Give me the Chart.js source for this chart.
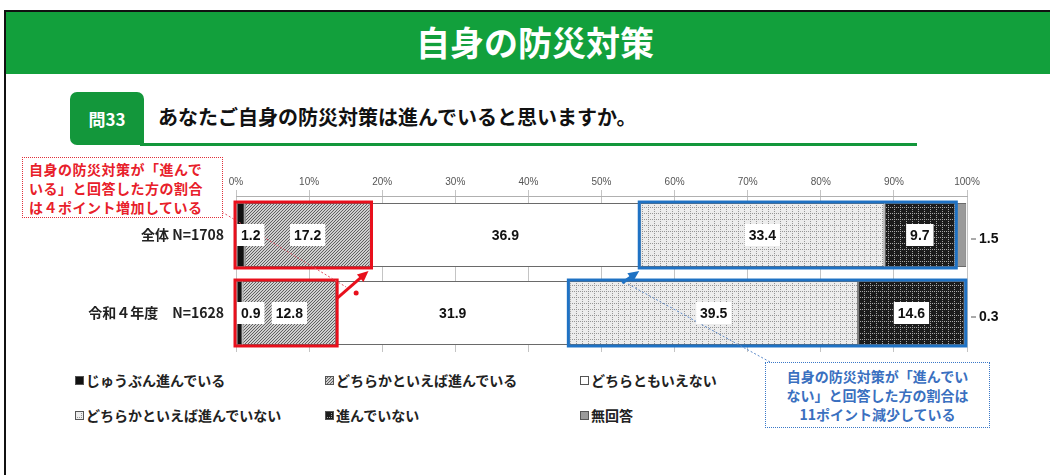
<!DOCTYPE html>
<html lang="ja">
<head>
<meta charset="UTF-8" />
<title>自身の防災対策</title>
<script src="https://cdn.jsdelivr.net/npm/chart.js@4"></script>
<style>
  body { margin: 0; width: 1050px; height: 475px; overflow: hidden; background: #fff;
         font-family: "Noto Sans CJK JP", "Noto Sans", sans-serif; position: relative; }
  .frame { position: absolute; left: 4px; top: 10px; width: 1100px; height: 500px;
           border-left: 2px solid #111; border-top: 2px solid #111; }
  .banner { position: absolute; left: 6px; top: 12px; width: 1044px; height: 62px; background: #12a03c;
            color: #fff; font-weight: bold; font-size: 34px; line-height: 60px; text-align: center; padding-left: 14px; box-sizing: border-box; }
  .qbox { position: absolute; left: 70px; top: 92px; width: 74px; height: 53px; background: #13973b;
          border-radius: 7px 7px 0 7px; color: #fff; font-weight: bold; font-size: 17px; line-height: 53px; text-align: center; }
  .qtext { position: absolute; left: 158px; top: 102px; font-size: 20px; font-weight: bold; color: #111; }
  .qline { position: absolute; left: 140px; top: 143px; width: 777px; height: 3px; background: #13973b; }
  #chart { position: absolute; left: 0; top: 165px; }
  .note { position: absolute; font-weight: bold; font-size: 14px; line-height: 19px; background: #fff; box-sizing: border-box; }
  .note.red { left: 22px; top: 157px; width: 201px; height: 61px; border: 1.5px dotted #e0303a; color: #e8202a; padding: 2px 6px; letter-spacing: 0.5px; }
  .note.blue { left: 765px; top: 362px; width: 225px; height: 66px; border: 1.5px dotted #3a78c8; color: #3a70c0; text-align: center; padding-top: 4px; }
  .legend { position: absolute; left: 75px; top: 370px; width: 700px; }
  .legend span { position: absolute; font-size: 14px; font-weight: bold; color: #222; white-space: nowrap; line-height: 20px; }
  .legend canvas { width: 9px; height: 9px; margin-right: 2px; vertical-align: 1px; }
</style>
</head>
<body>
<div class="frame"></div>
<div class="banner">自身の防災対策</div>
<div class="qbox">問33</div>
<div class="qtext">あなたご自身の防災対策は進んでいると思いますか。</div>
<div class="qline"></div>

<canvas id="chart" width="1050" height="200"></canvas>

<div class="note red">自身の防災対策が「進んで<br>いる」と回答した方の割合<br>は４ポイント増加している</div>
<div class="note blue">自身の防災対策が「進んでい<br>ない」と回答した方の割合は<br>11ポイント減少している</div>

<div class="legend" id="legend"></div>

<script>
// データ
const categories = ['全体 N=1708', '令和４年度　N=1628'];
const seriesNames = ['じゅうぶん進んでいる', 'どちらかといえば進んでいる', 'どちらともいえない',
                     'どちらかといえば進んでいない', '進んでいない', '無回答'];
const fullyDone   = [1.2, 0.9];
const ratherDone  = [17.2, 12.8];
const neither     = [36.9, 31.9];
const ratherNot   = [33.4, 39.5];
const notDone     = [9.7, 14.6];
const noAnswer    = [1.5, 0.3];
const tickValues  = [0, 10, 20, 30, 40, 50, 60, 70, 80, 90, 100];

// 塗りパターン
function makeTile(kind, size) {
    const c = document.createElement('canvas');
    c.width = size; c.height = size;
    const g = c.getContext('2d');
    if (kind === 'black') { g.fillStyle = '#111'; g.fillRect(0, 0, size, size); }
    if (kind === 'white') { g.fillStyle = '#fff'; g.fillRect(0, 0, size, size); }
    if (kind === 'grey') { g.fillStyle = '#9a9a9a'; g.fillRect(0, 0, size, size); }
    if (kind === 'hatch') {
        g.fillStyle = '#cfcfcf'; g.fillRect(0, 0, size, size);
        g.fillStyle = '#606060';
        for (let y = 0; y < size; y++) for (let x = 0; x < size; x++) if ((x + y) % 3 === 0) g.fillRect(x, y, 1, 1);
    }
    if (kind === 'light') {
        g.fillStyle = '#ececec'; g.fillRect(0, 0, size, size);
        g.fillStyle = '#959595';
        for (let y = 0; y < size; y++) for (let x = 0; x < size; x++)
            if ((x % 6 === 0 && y % 2 === 0) || (y % 6 === 0 && x % 2 === 0)) g.fillRect(x, y, 1, 1);
    }
    if (kind === 'dark') {
        g.fillStyle = '#1c1c1c'; g.fillRect(0, 0, size, size);
        g.fillStyle = '#a8a8a8';
        for (let y = 0; y < size; y++) for (let x = 0; x < size; x++)
            if ((x % 6 === 0 && y % 2 === 0) || (y % 6 === 0 && x % 2 === 0)) g.fillRect(x, y, 1, 1);
    }
    return c;
}
const kinds = ['black', 'hatch', 'white', 'light', 'dark', 'grey'];
const ctx = document.getElementById('chart').getContext('2d');
const fills = kinds.map(k => ctx.createPattern(makeTile(k, 6), 'repeat'));

const seriesValues = [fullyDone, ratherDone, neither, ratherNot, notDone, noAnswer];

// 凡例 (HTML)
const legendPos = [[0, 0], [250, 0], [505, 0], [0, 35], [250, 35], [505, 35]];
const legendEl = document.getElementById('legend');
seriesNames.forEach((name, i) => {
    const s = document.createElement('span');
    s.style.left = legendPos[i][0] + 'px';
    s.style.top = legendPos[i][1] + 'px';
    const sw = makeTile(kinds[i], 9);
    const g = sw.getContext('2d');
    g.strokeStyle = '#555'; g.strokeRect(0.5, 0.5, 8, 8);
    s.appendChild(sw);
    s.appendChild(document.createTextNode(name));
    legendEl.appendChild(s);
});

// 数値ラベル・囲み・矢印
const overlayPlugin = {
    id: 'overlay',
    afterDatasetsDraw(chart) {
        const c = chart.ctx;
        const xs = chart.scales.x;
        const area = chart.chartArea;
        const last = seriesValues.length - 1;

        // 赤枠・青枠
        function frameBox(idx, from, to, color) {
            const el = chart.getDatasetMeta(0).data[idx];
            const top = el.y - el.height / 2, bot = el.y + el.height / 2;
            let s = 0;
            for (let k = 0; k < from; k++) s += seriesValues[k][idx];
            let e = s;
            for (let k = from; k <= to; k++) e += seriesValues[k][idx];
            const x0 = xs.getPixelForValue(s), x1 = xs.getPixelForValue(e);
            c.save();
            c.strokeStyle = color; c.lineWidth = 3;
            c.strokeRect(x0 - 1, top - 1, x1 - x0 + 2, bot - top + 2);
            c.restore();
            return { x0, x1, top, bot };
        }
        const r0 = frameBox(0, 0, 1, '#e8101c');
        const r1 = frameBox(1, 0, 1, '#e8101c');
        const b0 = frameBox(0, 3, 4, '#1f72c4');
        const b1 = frameBox(1, 3, 4, '#1f72c4');

        // 点線の引き出し線
        c.save();
        c.setLineDash([2, 2]); c.lineWidth = 1;
        c.strokeStyle = '#e05060';
        c.beginPath(); c.moveTo(222, 212 - 165); c.lineTo(r1.x1 + 10, r1.top + 6); c.stroke();
        c.strokeStyle = '#5a88c8';
        c.beginPath(); c.moveTo(770, 362 - 165); c.lineTo(b0.x0 - 14, b1.top + 2); c.stroke();
        c.restore();

        // 矢印
        function arrow(x0, y0, x1, y1, color) {
            const a = Math.atan2(y1 - y0, x1 - x0);
            c.save();
            c.strokeStyle = color; c.fillStyle = color; c.lineWidth = 3;
            c.beginPath(); c.moveTo(x0, y0); c.lineTo(x1 - 6 * Math.cos(a), y1 - 6 * Math.sin(a)); c.stroke();
            c.beginPath();
            c.moveTo(x1, y1);
            c.lineTo(x1 - 11 * Math.cos(a) + 5 * Math.sin(a), y1 - 11 * Math.sin(a) - 5 * Math.cos(a));
            c.lineTo(x1 - 11 * Math.cos(a) - 5 * Math.sin(a), y1 - 11 * Math.sin(a) + 5 * Math.cos(a));
            c.closePath(); c.fill();
            c.restore();
        }
        arrow(r1.x1, r1.top + 18, r0.x1 - 2, r0.bot + 4, '#e8101c');
        c.save(); c.fillStyle = '#e8101c';
        c.beginPath(); c.arc(r1.x1 + 20, r1.top + 12, 2.5, 0, Math.PI * 2); c.fill(); c.restore();
        arrow(b0.x0 - 18, b1.top + 2, b0.x0 - 1, b0.bot + 4, '#1f72c4');

        // 数値ラベル
        c.save();
        c.font = 'bold 14px "Liberation Sans", sans-serif';
        c.textAlign = 'center'; c.textBaseline = 'middle';
        seriesValues.forEach((vals, di) => {
            chart.getDatasetMeta(di).data.forEach((el, i) => {
                const txt = vals[i].toFixed(1);
                if (di === last) {
                    c.strokeStyle = '#555'; c.lineWidth = 1;
                    c.beginPath(); c.moveTo(area.right + 4, el.y + 4); c.lineTo(area.right + 9, el.y + 4); c.stroke();
                    c.fillStyle = '#111'; c.textAlign = 'left';
                    c.fillText(txt, area.right + 12, el.y + 4);
                    c.textAlign = 'center';
                    return;
                }
                const w = c.measureText(txt).width + 8;
                let cx = (el.base + el.x) / 2;
                if (cx - w / 2 < area.left + 1) cx = area.left + 1 + w / 2;
                c.fillStyle = '#fff';
                c.fillRect(cx - w / 2, el.y - 11, w, 22);
                c.fillStyle = '#111';
                c.fillText(txt, cx, el.y + 1);
            });
        });
        c.restore();
    }
};

new Chart(ctx, {
    type: 'bar',
    data: {
        labels: categories,
        datasets: seriesValues.map((vals, i) => ({
            label: seriesNames[i],
            data: vals,
            backgroundColor: fills[i],
            borderColor: '#6a6a6a',
            borderWidth: 1,
            borderSkipped: false,
            categoryPercentage: 1,
            barPercentage: 0.82
        }))
    },
    options: {
        indexAxis: 'y',
        responsive: false,
        animation: false,
        devicePixelRatio: 1,
        layout: { padding: { left: 0, right: 83, top: 0, bottom: 13 } },
        plugins: { legend: { display: false }, tooltip: { enabled: false } },
        scales: {
            x: {
                position: 'top',
                stacked: true,
                min: 0, max: 100,
                afterBuildTicks: s => { s.ticks = tickValues.map(v => ({ value: v })); },
                afterFit: s => { s.height = 31; },
                ticks: { callback: v => v + '%', color: '#555', font: { family: 'Liberation Sans', size: 10 }, padding: 2 },
                grid: { color: '#c4c4c4', tickLength: 6 },
                border: { color: '#b0b0b0' }
            },
            y: {
                stacked: true,
                afterFit: s => { s.width = 236; },
                ticks: { color: '#222', font: { family: 'Noto Sans CJK JP', size: 14, weight: 'bold' }, padding: 4 },
                grid: { display: false },
                border: { display: false }
            }
        }
    },
    plugins: [overlayPlugin]
});
</script>
</body>
</html>
